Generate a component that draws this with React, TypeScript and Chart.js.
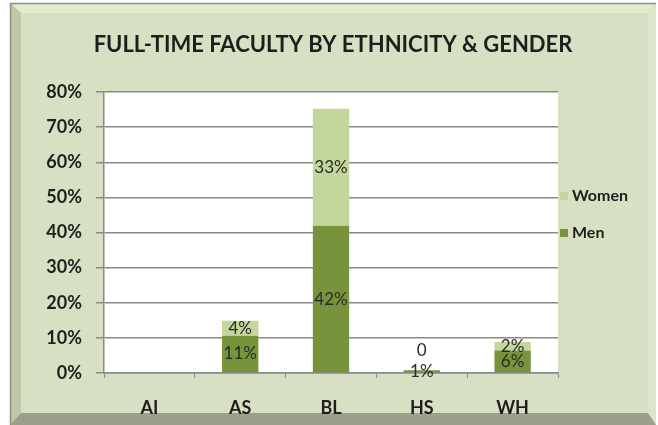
import React, { useEffect, useRef } from "react";
import { Chart, registerables } from "chart.js";

Chart.register(...registerables);

const categories = ["AI", "AS", "BL", "HS", "WH"];
const menValues: (number | null)[] = [null, 10.6, 41.9, 0.8, 6.4];
const womenValues: (number | null)[] = [null, 4.3, 33.3, 0, 2.4];
const yTicks = [0, 10, 20, 30, 40, 50, 60, 70, 80];
const titleText = "FULL-TIME FACULTY BY ETHNICITY & GENDER";
const legendItems = ["Women", "Men"];

const MEN_COLOR = "#77933c";
const WOMEN_COLOR = "#c3d69b";
const FONT = "Lato, 'Open Sans', sans-serif";

const framePlugin = {
  id: "frame",
  beforeDraw(chart: any) {
    const ctx = chart.ctx;
    const W = 658, H = 425;
    ctx.save();
    ctx.fillStyle = "#ffffff";
    ctx.fillRect(0, 0, W, H);
    ctx.fillStyle = "#d7e0c3";
    ctx.fillRect(10, 3, 646, 422);
    const poly = (pts: number[][], color: string) => {
      ctx.beginPath();
      ctx.moveTo(pts[0][0], pts[0][1]);
      for (let i = 1; i < pts.length; i++) ctx.lineTo(pts[i][0], pts[i][1]);
      ctx.closePath();
      ctx.fillStyle = color;
      ctx.fill();
    };
    poly([[10, 3], [656, 3], [648, 13], [21, 13]], "#e2eacf");
    poly([[10, 3], [21, 13], [21, 413], [10, 425]], "#c0c7a9");
    poly([[656, 3], [656, 425], [648, 413], [648, 13]], "#dde5ca");
    poly([[21, 413], [648, 413], [656, 425], [10, 425]], "#9d9f8c");
    ctx.strokeStyle = "#8e9180";
    ctx.lineWidth = 1.5;
    ctx.beginPath();
    ctx.moveTo(10.5, 425);
    ctx.lineTo(10.5, 3.5);
    ctx.lineTo(656, 3.5);
    ctx.stroke();
    const a = chart.chartArea;
    ctx.fillStyle = "#ffffff";
    ctx.fillRect(a.left, a.top, a.right - a.left, a.bottom - a.top);
    ctx.restore();
  },
  afterDraw(chart: any) {
    const ctx = chart.ctx;
    ctx.save();
    ctx.fillStyle = "#1e1e1e";
    ctx.font = `bold 22px ${FONT}`;
    ctx.textAlign = "center";
    ctx.textBaseline = "middle";
    ctx.fillText(titleText, 333, 45);
    const colors = [WOMEN_COLOR, MEN_COLOR];
    const ys = [196, 233];
    ctx.font = `bold 16px ${FONT}`;
    ctx.textAlign = "left";
    legendItems.forEach((t, i) => {
      ctx.fillStyle = colors[i];
      ctx.fillRect(560, ys[i] - 4, 8, 8);
      ctx.fillStyle = "#1e1e1e";
      ctx.fillText(t, 572, ys[i]);
    });
    ctx.restore();
  },
};

const labelPlugin = {
  id: "barLabels",
  afterDatasetsDraw(chart: any) {
    const ctx = chart.ctx;
    ctx.save();
    ctx.font = `17px ${FONT}`;
    ctx.fillStyle = "#2a2a2a";
    ctx.textAlign = "center";
    ctx.textBaseline = "middle";
    chart.data.datasets.forEach((ds: any, di: number) => {
      const meta = chart.getDatasetMeta(di);
      meta.data.forEach((el: any, i: number) => {
        const v = ds.data[i];
        if (v === null || v === undefined) return;
        if (v === 0) {
          ctx.fillText("0", el.x, el.y - 20);
        } else {
          ctx.fillText(Math.round(v) + "%", el.x, (el.y + el.base) / 2);
        }
      });
    });
    ctx.restore();
  },
};

export default function App() {
  const ref = useRef<HTMLCanvasElement>(null);
  useEffect(() => {
    if (!ref.current) return;
    const chart = new Chart(ref.current, {
      type: "bar",
      data: {
        labels: categories,
        datasets: [
          { label: "Men", data: menValues, backgroundColor: MEN_COLOR, barPercentage: 0.4, categoryPercentage: 1 },
          { label: "Women", data: womenValues, backgroundColor: WOMEN_COLOR, barPercentage: 0.4, categoryPercentage: 1 },
        ],
      },
      options: {
        responsive: false,
        animation: false,
        layout: { padding: { left: 0, top: 92, right: 100, bottom: 0 } },
        plugins: { legend: { display: false }, title: { display: false }, tooltip: { enabled: false } },
        scales: {
          x: {
            stacked: true,
            afterFit: (s: any) => { s.height = 52; },
            grid: { drawOnChartArea: false, drawTicks: true, tickLength: 5, color: "#8a8a8a", offset: true },
            border: { color: "#8a8a8a", width: 1.5 },
            ticks: { color: "#1e1e1e", font: { family: FONT, size: 18, weight: "bold" }, padding: 19 },
          },
          y: {
            stacked: true,
            min: 0,
            max: 80,
            afterFit: (s: any) => { s.width = 104; },
            afterBuildTicks: (s: any) => { s.ticks = yTicks.map((v) => ({ value: v })); },
            grid: { color: "#8a8a8a", lineWidth: 1.5, tickLength: 8 },
            border: { color: "#8a8a8a", width: 1.5 },
            ticks: {
              color: "#1e1e1e",
              font: { family: FONT, size: 18, weight: "bold" },
              padding: 14,
              callback: (v: any) => v + "%",
            },
          },
        },
      },
      plugins: [framePlugin, labelPlugin],
    });
    return () => chart.destroy();
  }, []);
  return (
    <div style={{ position: "fixed", left: 0, top: 0, width: 658, height: 425 }}>
      <canvas ref={ref} width={658} height={425} />
    </div>
  );
}
